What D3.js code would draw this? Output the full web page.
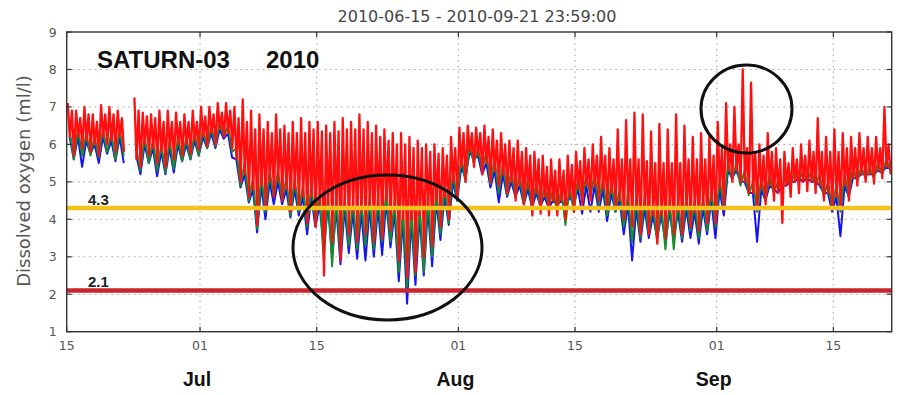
<!DOCTYPE html>
<html><head><meta charset="utf-8">
<script src="https://cdn.jsdelivr.net/npm/d3@7"></script>
<style>body{margin:0;background:#fff}svg{display:block}</style>
</head><body>
<svg id="chart" width="903" height="395"></svg>
<script>
// ---- DATA (daily values, day 0 = 2010-06-15; null = no data) ----
const startDay = "2010-06-15";
const endDay = "2010-09-22";
// red sensor: daily spike top, bulk top, bulk bottom, spike low
const redMax = [7.1,6.9,7.0,6.8,7.05,7.0,6.9,null,7.25,6.85,6.8,6.9,6.9,6.85,6.8,6.9,7.0,7.0,7.1,7.1,
 7.0,7.2,6.9,6.8,6.6,6.8,6.5,6.6,6.7,6.6,6.6,6.5,6.6,6.7,6.6,6.8,6.6,6.5,6.4,6.3,
 6.3,6.2,6.1,6.0,6.0,5.9,6.2,6.45,6.5,6.45,6.5,6.4,6.3,6.1,6.1,5.9,5.8,5.7,5.6,5.6,
 5.7,5.8,5.9,6.0,6.2,5.9,6.4,6.65,6.85,6.8,6.35,6.55,6.4,6.8,6.5,6.2,6.3,6.2,6.6,7.1,
 7.0,8.0,7.65,6.0,6.3,5.9,5.8,5.9,6.0,6.1,6.7,6.2,6.4,6.3,6.2,6.3,6.2,6.2,7.0];
const redTop = [6.9,6.7,6.8,6.6,6.8,6.8,6.7,null,6.9,6.75,6.7,6.6,6.6,6.6,6.6,6.6,6.75,6.8,6.85,6.9,
 6.7,6.6,6.4,6.4,6.3,6.4,6.3,6.3,6.3,6.4,6.35,6.3,6.35,6.4,6.4,6.4,6.3,6.2,6.1,6.0,
 6.0,5.9,5.9,5.8,5.75,5.7,5.9,6.3,6.3,6.3,6.2,6.1,6.0,5.9,5.8,5.7,5.6,5.4,5.3,5.3,
 5.45,5.55,5.6,5.7,5.7,5.6,5.6,5.6,5.6,5.55,5.5,5.5,5.5,5.5,5.6,5.6,5.6,5.7,5.9,6.0,
 6.0,5.9,5.8,5.7,5.8,5.6,5.5,5.6,5.7,5.8,5.8,5.8,5.8,5.9,5.9,5.9,5.9,5.9,6.0];
const redBot = [6.2,6.2,6.1,6.0,6.2,6.1,6.2,null,5.6,6.0,5.9,5.8,5.9,6.0,6.0,6.1,6.2,6.3,6.4,6.3,
 5.6,5.2,4.8,4.9,5.0,5.0,4.8,4.8,4.6,4.6,4.4,4.4,4.3,4.3,4.2,4.2,4.3,4.3,4.5,4.2,
 4.0,4.0,4.1,4.3,4.5,4.6,5.0,5.4,5.8,5.7,5.5,5.3,5.2,5.0,4.9,4.8,4.7,4.6,4.5,4.5,
 4.6,4.8,4.9,4.9,4.8,4.7,4.5,4.4,4.3,4.3,4.1,4.1,4.2,4.2,4.3,4.2,4.3,4.5,4.8,5.3,
 5.3,5.0,4.7,4.8,4.9,4.7,4.9,5.0,5.0,5.0,4.9,4.7,4.6,4.9,5.1,5.2,5.2,5.3,5.4];
const redMin = [5.7,5.9,5.8,5.7,6.0,5.8,5.8,null,5.4,5.7,5.5,5.4,5.6,5.7,5.75,5.85,5.95,6.0,6.2,5.9,
 5.0,4.6,3.85,4.3,4.6,4.5,4.2,4.3,3.9,3.8,2.5,3.4,2.9,3.6,3.4,3.6,3.4,3.5,3.7,2.9,
 2.45,2.6,3.0,3.3,3.8,4.0,4.6,5.0,5.4,5.2,5.0,4.9,4.7,4.5,4.4,4.1,4.15,4.1,4.1,4.0,
 4.2,4.4,4.5,4.5,4.3,4.3,4.0,3.8,3.6,3.6,3.35,3.5,3.6,3.6,3.8,3.7,3.9,3.9,4.3,5.0,
 5.0,4.7,4.3,4.4,4.5,3.9,4.6,4.7,4.75,4.7,4.5,4.3,4.3,4.5,4.9,5.0,4.95,5.1,5.2];
// green sensor: daily high, low
const greenHi = [6.4,6.4,6.3,6.2,6.4,6.3,6.4,null,5.9,6.2,6.1,6.0,6.1,6.2,6.2,6.3,6.4,6.5,6.6,6.5,
 5.9,5.5,5.1,5.2,5.3,5.3,5.1,5.1,4.9,4.9,4.7,4.7,4.6,4.6,4.5,4.5,4.6,4.6,4.8,4.5,
 4.3,4.3,4.4,4.6,4.8,4.9,5.3,5.7,6.0,5.9,5.8,5.6,5.5,5.3,5.2,5.1,5.0,4.9,4.8,4.8,
 4.9,5.1,5.2,5.2,5.1,5.0,4.8,4.7,4.6,4.6,4.4,4.4,4.5,4.5,4.6,4.5,4.6,4.8,5.1,5.5,
 5.5,5.3,5.0,5.1,5.2,5.0,5.2,5.3,5.3,5.3,5.2,5.0,4.9,5.2,5.4,5.4,5.4,5.5,5.6];
const greenLo = [5.6,5.7,5.7,5.65,5.8,5.6,5.7,null,5.3,5.5,5.3,5.25,5.35,5.55,5.6,5.7,5.9,5.95,6.2,5.8,
 4.9,4.5,3.75,4.2,4.6,4.5,4.1,4.2,3.8,3.9,2.9,2.75,3.0,3.3,3.2,3.3,3.2,3.4,3.4,2.6,
 2.2,2.5,2.6,3.0,3.6,3.9,4.5,5.0,5.5,5.3,4.95,4.7,4.65,4.6,4.4,4.3,4.3,4.3,4.2,3.85,
 4.2,4.5,4.6,4.4,4.1,4.2,3.8,3.4,3.5,3.6,3.4,3.2,3.2,3.5,3.7,3.5,3.7,3.8,4.3,5.05,
 4.9,4.65,4.2,4.5,4.7,4.8,4.9,5.0,5.0,4.9,4.6,4.3,4.2,4.6,5.0,5.1,5.1,5.2,5.3];
// blue sensor: daily high, low
const blueHi = [6.2,6.2,6.1,6.0,6.2,6.1,6.2,null,5.7,6.0,5.9,5.8,5.9,6.0,6.0,6.1,6.2,6.3,6.4,6.3,
 5.6,5.2,4.8,4.9,5.0,5.0,4.8,4.8,4.6,4.6,4.4,4.4,4.3,4.3,4.2,4.2,4.3,4.3,4.5,4.2,
 4.0,4.0,4.1,4.3,4.5,4.6,5.0,5.4,5.8,5.7,5.5,5.3,5.2,5.0,4.9,4.8,4.7,4.6,4.5,4.5,
 4.6,4.8,4.9,4.9,4.8,4.7,4.5,4.4,4.3,4.3,4.1,4.1,4.2,4.2,4.3,4.2,4.3,4.5,4.8,5.3,
 5.3,5.0,4.7,4.8,4.9,4.7,4.9,5.0,5.0,5.0,4.9,4.7,4.6,4.9,5.1,5.2,5.2,5.3,5.4];
const blueLo = [5.6,5.4,5.75,5.5,5.75,5.55,5.5,null,5.2,5.5,5.15,5.2,5.25,5.55,5.6,5.7,5.9,5.9,6.15,5.65,
 4.85,4.45,3.65,4.0,4.4,4.4,4.05,4.1,3.6,3.8,3.2,3.0,2.8,3.1,2.95,2.9,3.0,3.05,3.25,2.35,
 1.75,2.25,2.5,2.75,3.45,3.85,4.5,5.1,5.6,5.2,4.85,4.45,4.6,4.6,4.4,4.3,4.35,4.3,4.4,4.3,
 4.4,4.15,4.2,4.2,3.95,4.2,3.6,2.9,3.4,3.5,3.5,3.4,3.45,3.4,3.5,3.35,3.6,3.5,4.1,5.1,
 5.0,4.7,3.4,4.5,4.8,4.9,5.0,5.1,5.1,5.0,4.7,4.2,3.55,4.6,5.1,5.2,5.2,5.25,5.35];
// axis ticks and labels
const yTicks = [1,2,3,4,5,6,7,8,9];
const xTickDates = ["2010-06-15","2010-07-01","2010-07-15","2010-08-01","2010-08-15","2010-09-01","2010-09-15"];
const xTickLabels = ["15","01","15","01","15","01","15"];
const monthDates = ["2010-07-01","2010-08-01","2010-09-01"];
const monthLabels = ["Jul","Aug","Sep"];
const thresholds = [4.3, 2.1];
const thresholdLabels = ["4.3","2.1"];
const title = "2010-06-15 - 2010-09-21 23:59:00";
const yLabel = "Dissolved oxygen (ml/l)";
const stationLabel = "SATURN-03";
const yearLabel = "2010";

// ---- CHART ----
const svg = d3.select("#chart");
const W = 903, H = 395;
const L = 66.7, R = 891.7, T = 32, B = 331.7;
const parse = s => new Date(s + "T00:00:00Z");
const x = d3.scaleUtc().domain([parse(startDay), parse(endDay)]).range([L, R]);
const y = d3.scaleLinear().domain([1, 9]).range([B, T]);
const DAY = 86400000;
const t0 = parse(startDay).getTime();
const at = (d, f) => new Date(t0 + (d + f) * DAY);

svg.append("rect").attr("width", W).attr("height", H).attr("fill", "#fff");

// grid
const grid = svg.append("g").attr("stroke", "#aaaaaa").attr("stroke-width", 1.1).attr("stroke-dasharray", "1.6,4");
yTicks.filter(v => v > 1 && v < 9).forEach(v => {
  grid.append("line").attr("x1", L).attr("x2", R).attr("y1", y(v)).attr("y2", y(v));
});
xTickDates.slice(1).forEach(s => {
  grid.append("line").attr("x1", x(parse(s))).attr("x2", x(parse(s))).attr("y1", T).attr("y2", B);
});

// series builders
function twoPoint(hi, lo) {
  const pts = [];
  hi.forEach((h, d) => {
    if (h == null) { pts.push(null); return; }
    pts.push([at(d, 0.35), h], [at(d, 0.85), lo[d]]);
  });
  return pts;
}
const redPts = [];
redMax.forEach((m, d) => {
  if (m == null) { redPts.push(null); return; }
  redPts.push([at(d, 0.125), m], [at(d, 0.375), redBot[d]], [at(d, 0.625), redTop[d]], [at(d, 0.875), redMin[d]]);
});
const line = d3.line().defined(p => p != null).x(p => x(p[0])).y(p => y(p[1]));
const plot = svg.append("g");
plot.append("path").attr("d", line(twoPoint(blueHi, blueLo))).attr("fill", "none").attr("stroke", "#1414f0").attr("stroke-width", 2).attr("stroke-linejoin", "round");
plot.append("path").attr("d", line(twoPoint(greenHi, greenLo))).attr("fill", "none").attr("stroke", "#1b8a2a").attr("stroke-width", 2).attr("stroke-linejoin", "round");
plot.append("path").attr("d", line(redPts)).attr("fill", "none").attr("stroke", "#ff0f0f").attr("stroke-width", 2.3).attr("stroke-linejoin", "round");

// threshold lines
const thrColors = ["#f5c21b", "#c9252b"];
thresholds.forEach((v, i) => {
  svg.append("line").attr("x1", L).attr("x2", R).attr("y1", y(v)).attr("y2", y(v))
    .attr("stroke", thrColors[i]).attr("stroke-width", 4.5);
  svg.append("text").attr("x", 88).attr("y", y(v) - 3).text(thresholdLabels[i])
    .attr("font-family", "Liberation Sans, Arial, sans-serif").attr("font-weight", "bold")
    .attr("font-size", 15).attr("fill", "#222");
});

// frame and ticks
svg.append("rect").attr("x", L).attr("y", T).attr("width", R - L).attr("height", B - T)
  .attr("fill", "none").attr("stroke", "#333").attr("stroke-width", 1.4);
const tk = svg.append("g").attr("stroke", "#333").attr("stroke-width", 1.2);
yTicks.forEach(v => {
  tk.append("line").attr("x1", L).attr("x2", L + 5).attr("y1", y(v)).attr("y2", y(v));
  tk.append("line").attr("x1", R).attr("x2", R - 5).attr("y1", y(v)).attr("y2", y(v));
});
xTickDates.forEach(s => {
  const xx = x(parse(s));
  tk.append("line").attr("x1", xx).attr("x2", xx).attr("y1", B).attr("y2", B - 5);
  tk.append("line").attr("x1", xx).attr("x2", xx).attr("y1", T).attr("y2", T + 5);
});

const tickFont = "DejaVu Sans, sans-serif";
svg.append("g").selectAll("text").data(yTicks).join("text")
  .attr("x", L - 10).attr("y", v => y(v)).attr("dy", "0.36em").attr("text-anchor", "end")
  .attr("font-family", tickFont).attr("font-size", 12.5).attr("fill", "#555").text(v => v);
svg.append("g").selectAll("text").data(xTickDates).join("text")
  .attr("x", s => x(parse(s))).attr("y", 350).attr("text-anchor", "middle")
  .attr("font-family", tickFont).attr("font-size", 12.5).attr("fill", "#555")
  .text((s, i) => xTickLabels[i]);

// month labels
svg.append("g").selectAll("text").data(monthDates).join("text")
  .attr("x", s => x(parse(s)) - 3).attr("y", 386).attr("text-anchor", "middle")
  .attr("font-family", "Liberation Sans, Arial, sans-serif").attr("font-weight", "bold")
  .attr("font-size", 19.5).attr("fill", "#111").text((s, i) => monthLabels[i]);

// title and axis label
svg.append("text").attr("x", 477).attr("y", 22).attr("text-anchor", "middle")
  .attr("font-family", tickFont).attr("font-size", 16).attr("fill", "#444").text(title);
svg.append("text").attr("transform", "translate(30,181) rotate(-90)").attr("text-anchor", "middle")
  .attr("font-family", tickFont).attr("font-size", 18).attr("fill", "#555").text(yLabel);

// station annotation
svg.append("text").attr("x", 97).attr("y", 68).attr("font-family", "Liberation Sans, Arial, sans-serif")
  .attr("font-weight", "bold").attr("font-size", 24).attr("fill", "#111").text(stationLabel);
svg.append("text").attr("x", 266).attr("y", 68).attr("font-family", "Liberation Sans, Arial, sans-serif")
  .attr("font-weight", "bold").attr("font-size", 24).attr("fill", "#111").text(yearLabel);

// highlight ellipses
svg.append("ellipse").attr("cx", 387.5).attr("cy", 247.5).attr("rx", 94.5).attr("ry", 72.5)
  .attr("fill", "none").attr("stroke", "#111").attr("stroke-width", 3);
svg.append("ellipse").attr("cx", 746.5).attr("cy", 109).attr("rx", 45.5).attr("ry", 44)
  .attr("fill", "none").attr("stroke", "#111").attr("stroke-width", 3);
</script>
</body></html>
